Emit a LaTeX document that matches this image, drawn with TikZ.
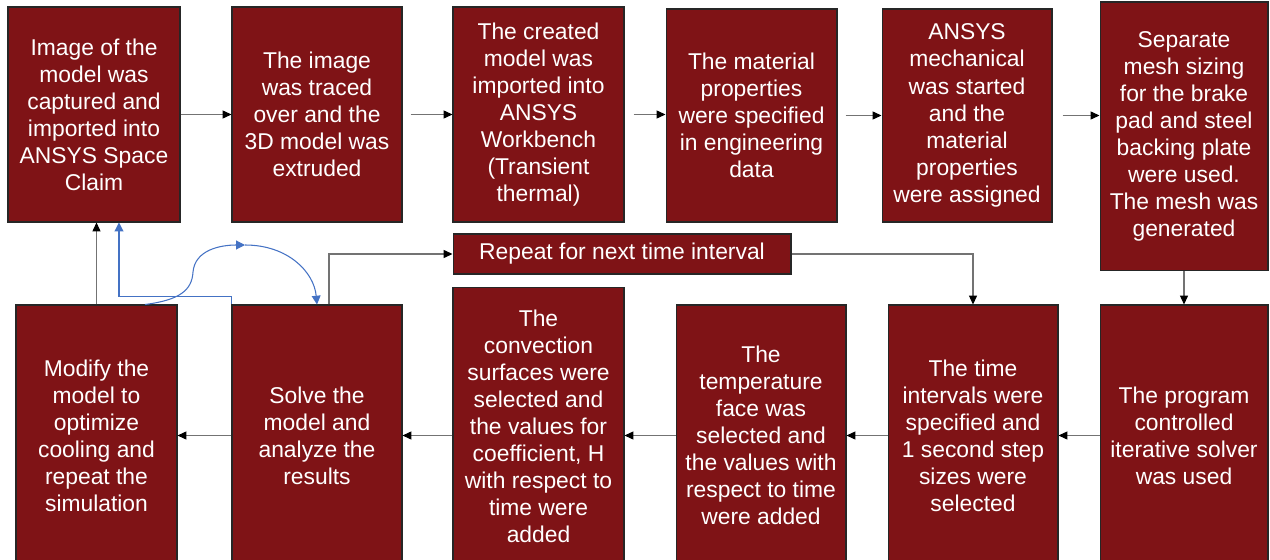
\documentclass[tikz,border=0pt]{standalone}
\usepackage{fontspec}
\setmainfont{Liberation Sans}
\usetikzlibrary{arrows.meta}
\definecolor{boxred}{RGB}{127,19,22}
\definecolor{loopblue}{RGB}{68,114,196}
\tikzset{
	stepbox/.style={
			draw=black!85, line width=0.6pt, fill=boxred, text=white,
			align=center, inner sep=2pt,
			font=\fontsize{13}{15.4}\selectfont
		},
	flow/.style={draw=black!55, line width=0.6pt, -{Triangle[length=5pt,width=4.5pt,color=black]}},
	loopflow/.style={draw=loopblue, line width=0.6pt, -{Triangle[length=5pt,width=5pt]}}
}
\begin{document}
\begin{tikzpicture}[x=0.02cm, y=-0.02cm]
	\useasboundingbox (0,0) rectangle (1270,560);
	% Top row of steps
	\node[stepbox, minimum width=3.44cm, minimum height=4.3cm] (b1) at (94,114.5)
	{Image of the\\model was\\captured and\\imported into\\ANSYS Space\\Claim};
	\node[stepbox, minimum width=3.4cm, minimum height=4.3cm] (b2) at (317,114.5)
	{The image\\was traced\\over and the\\3D model was\\extruded};
	\node[stepbox, minimum width=3.42cm, minimum height=4.3cm] (b3) at (538.5,114.5)
	{The created\\model was\\imported into\\ANSYS\\Workbench\\(Transient\\thermal)};
	\node[stepbox, minimum width=3.42cm, minimum height=4.26cm] (b4) at (751.5,115.5)
	{The material\\properties\\were specified\\in engineering\\data};
	\node[stepbox, minimum width=3.4cm, minimum height=4.26cm] (b5) at (967,115.5)
	{ANSYS\\mechanical\\was started\\and the\\material\\properties\\were assigned};
	\node[stepbox, minimum width=3.36cm, minimum height=5.38cm] (b6) at (1184,136.5)
	{Separate\\mesh sizing\\for the brake\\pad and steel\\backing plate\\were used.\\The mesh was\\generated};
	% Repeat box
	\node[stepbox, minimum width=6.76cm, minimum height=0.8cm] (rep) at (622,254)
	{Repeat for next time interval};
	% Bottom row of steps
	\node[stepbox, minimum width=3.22cm, minimum height=5.22cm] (c1) at (96.5,435.5)
	{Modify the\\model to\\optimize\\cooling and\\repeat the\\simulation};
	\node[stepbox, minimum width=3.4cm, minimum height=5.22cm] (c2) at (317,435.5)
	{Solve the\\model and\\analyze the\\results};
	\node[stepbox, minimum width=3.42cm, minimum height=5.58cm] (c3) at (538.5,426.5)
	{The\\convection\\surfaces were\\selected and\\the values for\\coefficient, H\\with respect to\\time were\\added};
	\node[stepbox, minimum width=3.4cm, minimum height=5.22cm] (c4) at (761,435.5)
	{The\\temperature\\face was\\selected and\\the values with\\respect to time\\were added};
	\node[stepbox, minimum width=3.4cm, minimum height=5.22cm] (c5) at (973,435.5)
	{The time\\intervals were\\specified and\\1 second step\\sizes were\\selected};
	\node[stepbox, minimum width=3.36cm, minimum height=5.22cm] (c6) at (1184,435.5)
	{The program\\controlled\\iterative solver\\was used};
	% Arrows along the top row
	\draw[flow] (b1.east) -- (b2.west);
	\draw[flow, shorten <=0.16cm] (b2.east) -- (b3.west);
	\draw[flow, shorten <=0.18cm] (b3.east) -- (b3.east -| b4.west);
	\draw[flow, shorten <=0.16cm] (b4.east) -- (b5.west);
	\draw[flow, shorten <=0.2cm] (b5.east) -- (b5.east -| b6.west);
	\draw[flow] (b6.south) -- (c6.north);
	% Arrows along the bottom row
	\draw[flow] (c6.west) -- (c5.east);
	\draw[flow] (c5.west) -- (c4.east);
	\draw[flow] (c4.west) -- (c4.west -| c3.east);
	\draw[flow] (c4.west -| c3.west) -- (c2.east);
	\draw[flow] (c2.west) -- (c1.east);
	% Repeat loop
	\draw[flow] ([xshift=0.24cm]c2.north) |- (rep.west);
	\draw[flow] (rep.east) -| (c5.north);
	% Back to the start
	\draw[flow] (c1.north) -- (b1.south -| c1.north);
	\draw[loopflow] (c2.north west) -- ++(0,0.16cm) -| ([xshift=0.5cm]b1.south);
	\coordinate (top) at (245,245);
	\draw[loopflow] ([xshift=0.97cm]c1.north) .. controls (180,300) and (192,290) .. (193,272)
		.. controls (195,250) and (220,245) .. (top);
	\draw[loopflow] (top) .. controls (288,245) and (314,272) .. (c2.north);
\end{tikzpicture}
\end{document}
